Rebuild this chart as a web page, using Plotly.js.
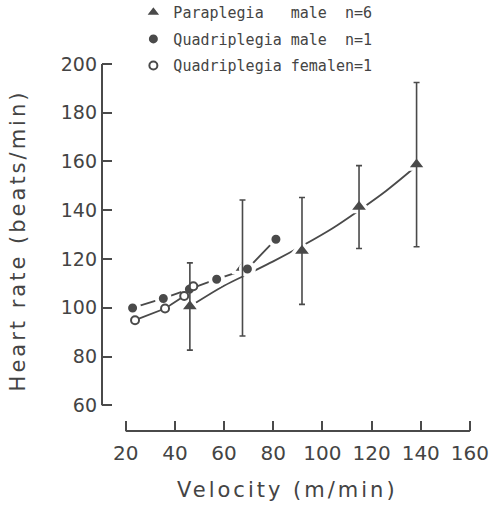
<!DOCTYPE html>
<html>
<head>
<meta charset="utf-8">
<script src="https://cdn.plot.ly/plotly-3.0.1.min.js"></script>
<style>
html,body{margin:0;padding:0;background:#fff;}
#chart{width:499px;height:507px;}
.annotation-text{letter-spacing:3px;}
</style>
</head>
<body>
<div id="chart"></div>
<script>
// ---- data ----
const paraVelocity = [46.1, 67.5, 91.7, 114.9, 138.3];
const paraHR       = [100.5, 116.3, 123.3, 141.3, 158.7];
const paraSD       = [17.9, 27.9, 21.9, 17.0, 33.7];

// dashed fitted curve for paraplegia
const paraFitVelocity = [48.5, 60, 70, 80, 92, 104, 115, 126, 137.5];
const paraFitHR       = [102, 109, 114, 119, 125.5, 132.5, 140, 148, 157.5];

const quadMaleVelocity = [22.8, 35.3, 45.9, 57.0, 69.5, 81.1];
const quadMaleHR       = [99.9, 103.8, 107.6, 111.7, 115.9, 128.1];

const quadFemaleVelocity = [23.8, 36.0, 43.8, 47.5];
const quadFemaleHR       = [94.9, 99.7, 104.8, 108.8];

const xTicks = [20, 40, 60, 80, 100, 120, 140, 160];
const yTicks = [60, 80, 100, 120, 140, 160, 180, 200];

const nb = '\u00A0';
const seriesNames = [
  'Paraplegia' + nb.repeat(3) + 'male' + nb.repeat(2) + 'n=6',
  'Quadriplegia' + nb + 'male' + nb.repeat(2) + 'n=1',
  'Quadriplegia' + nb + 'femalen=1'
];

const xTitle = 'Velocity (m/min)';
const yTitle = 'Heart rate (beats/min)';

// ---- styling ----
const ink = '#4a4a4a';
const lineW = 1.8;

const traces = [
  {x: paraFitVelocity, y: paraFitHR, mode: 'lines', line: {color: ink, width: lineW, shape: 'spline', smoothing: 1},
   showlegend: false, hoverinfo: 'skip'},
  {x: quadMaleVelocity, y: quadMaleHR, mode: 'lines', line: {color: ink, width: lineW},
   showlegend: false, hoverinfo: 'skip'},
  {x: quadFemaleVelocity, y: quadFemaleHR, mode: 'lines', line: {color: ink, width: lineW},
   showlegend: false, hoverinfo: 'skip'},
  {x: paraVelocity, y: paraHR, mode: 'markers', name: seriesNames[0], legendgroup: 'a',
   marker: {symbol: 'triangle-up', size: 18, color: ink, line: {color: '#fff', width: 3.5}}},
  {x: quadMaleVelocity, y: quadMaleHR, mode: 'markers', name: seriesNames[1], legendgroup: 'b',
   marker: {symbol: 'circle', size: 13, color: ink, line: {color: '#fff', width: 4}}},
  {x: quadFemaleVelocity, y: quadFemaleHR, mode: 'markers', name: seriesNames[2], legendgroup: 'c',
   marker: {symbol: 'circle', size: 8, color: '#fff', line: {color: ink, width: 2}}},
  {x: paraVelocity, y: paraHR, mode: 'markers', showlegend: false, hoverinfo: 'skip',
   marker: {color: 'rgba(0,0,0,0)', size: 1},
   error_y: {type: 'data', array: paraSD, visible: true, color: ink, thickness: 1.6, width: 3}}
];

const axisFont = {family: 'DejaVu Sans', size: 19, color: '#444'};

const layout = {
  width: 499, height: 507,
  margin: {l: 102, r: 19, t: 60, b: 76, autoexpand: false},
  paper_bgcolor: '#fff', plot_bgcolor: '#fff',
  showlegend: true,
  legend: {x: 0.083, y: 1.172, xanchor: 'left', yanchor: 'top', bgcolor: 'rgba(0,0,0,0)',
           traceorder: 'grouped', tracegroupgap: 4,
           font: {family: 'DejaVu Sans Mono', size: 15, color: '#444'}},
  xaxis: {range: [10.36, 164.1], tickvals: xTicks, ticktext: xTicks.map(String),
          ticks: 'inside', ticklen: 10, tickwidth: 2, tickcolor: ink,
          showline: false, showgrid: false, zeroline: false, ticklabelstandoff: 8,
          tickfont: {family: 'DejaVu Sans', size: 20, color: '#444'}},
  yaxis: {range: [49.45, 201.6], tickvals: yTicks, ticktext: yTicks.map(String),
          ticks: 'inside', ticklen: 10, tickwidth: 2, tickcolor: ink,
          showline: false, showgrid: false, zeroline: false, ticklabelstandoff: 4,
          tickfont: axisFont},
  shapes: [
    {type: 'line', xref: 'paper', yref: 'y', x0: 0, x1: 0,
     y0: Math.min(...yTicks), y1: Math.max(...yTicks), line: {color: ink, width: 2}},
    {type: 'line', xref: 'x', yref: 'paper', y0: 0, y1: 0,
     x0: Math.min(...xTicks), x1: Math.max(...xTicks), line: {color: ink, width: 2}}
  ],
  annotations: [
    {text: xTitle, xref: 'paper', yref: 'paper', x: 0.49, y: -0.159, xanchor: 'center', yanchor: 'middle',
     showarrow: false, font: {family: 'DejaVu Sans', size: 21, color: '#444'}},
    {text: yTitle, xref: 'paper', yref: 'paper', x: -0.222, y: 0.514, xanchor: 'center', yanchor: 'middle',
     textangle: -90, showarrow: false, font: {family: 'DejaVu Sans', size: 21, color: '#444'}}
  ]
};

Plotly.newPlot('chart', traces, layout, {displayModeBar: false, staticPlot: true});
</script>
</body>
</html>
